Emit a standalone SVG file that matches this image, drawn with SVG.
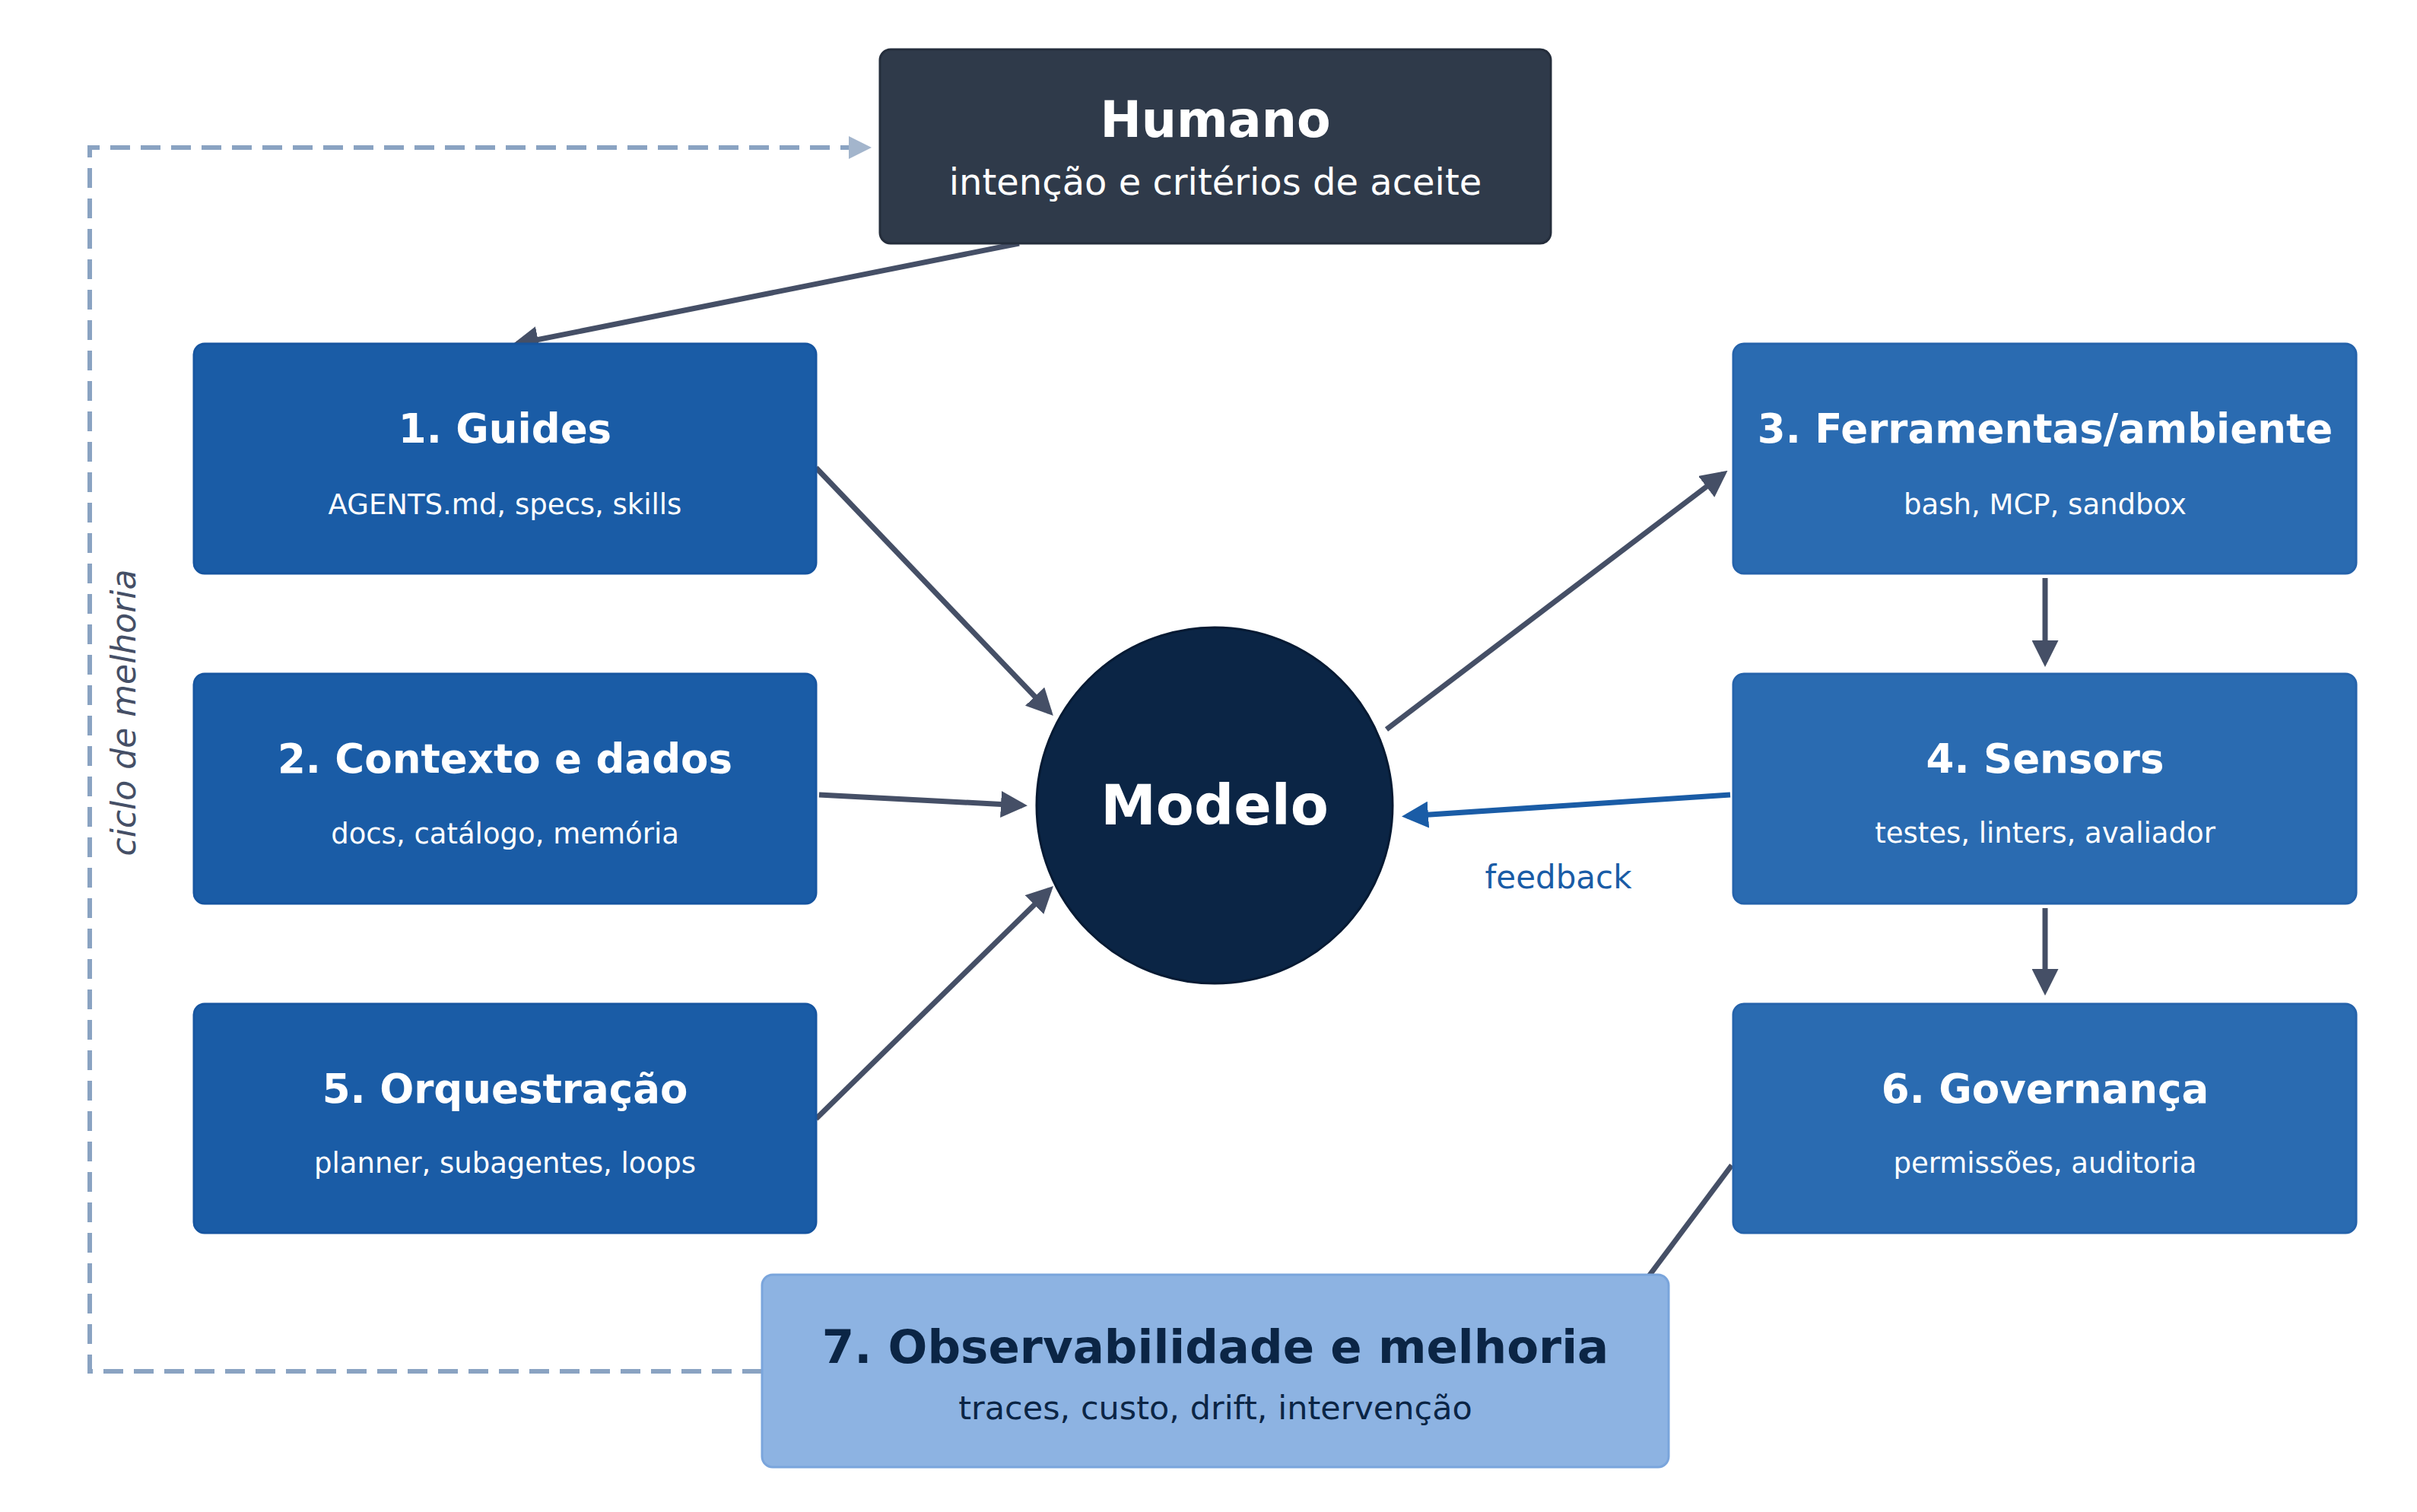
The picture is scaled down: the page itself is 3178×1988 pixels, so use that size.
<svg xmlns="http://www.w3.org/2000/svg" width="3178" height="1988" viewBox="0 0 3178 1988">
<style>
text{font-family:"DejaVu Sans","Noto Sans",sans-serif;text-anchor:middle}
.t{font-weight:bold;fill:#fff;font-size:53px}
.s{fill:#fff;font-size:37px}
.l rect{fill:#1a5ca6;stroke:#1655a0;stroke-width:3}
.r rect{fill:#2a6bb1;stroke:#2563ab;stroke-width:3}
.a{stroke:#454f66;stroke-width:7;fill:none;marker-end:url(#ah)}
</style>
<defs>
<marker id="ah" viewBox="0 0 10 10" refX="8" refY="5" markerWidth="5" markerHeight="5" orient="auto-start-reverse"><path d="M0,0L10,5L0,10z" fill="#454f66"/></marker>
<marker id="ab" viewBox="0 0 10 10" refX="8" refY="5" markerWidth="5" markerHeight="5" orient="auto"><path d="M0,0L10,5L0,10z" fill="#1a5ca6"/></marker>
<marker id="ag" viewBox="0 0 10 10" refX="8" refY="5" markerWidth="5" markerHeight="5" orient="auto"><path d="M0,0L10,5L0,10z" fill="#a3b5cc"/></marker>
</defs>
<rect width="3178" height="1988" fill="#fff"/>
<g id="connectors">
<path d="M1002,1803H118V194H1140" stroke="#8aa3c2" stroke-width="6" stroke-dasharray="26,14" fill="none" marker-end="url(#ag)"/>
<path class="a" d="M1340,320L680,452"/>
<path class="a" d="M1073,615L1380,936"/>
<path class="a" d="M1077,1045L1344,1059"/>
<path class="a" d="M1073,1471L1380,1170"/>
<path class="a" d="M1823,959L2266,623"/>
<path class="a" d="M2689,760V870"/>
<path class="a" d="M2689,1194V1302"/>
<path class="a" d="M2277,1532L2108,1758"/>
<path d="M2275,1045L1850,1073" stroke="#1a5ca6" stroke-width="7" fill="none" marker-end="url(#ab)"/>
<text x="2049" y="1168" font-size="42" fill="#1a5ca6">feedback</text>
<text transform="translate(178,937) rotate(-90)" font-size="44" font-style="italic" fill="#454f66">ciclo de melhoria</text>
</g>
<g id="humano"><rect x="1157" y="65" width="882" height="255" rx="14" fill="#2f3a4a" stroke="#252e3c" stroke-width="3"/>
<text x="1598" y="180" font-size="65" font-weight="bold" fill="#fff">Humano</text>
<text x="1598" y="256" font-size="48" fill="#fff">intenção e critérios de aceite</text></g>
<g id="n1" class="l"><rect x="255" y="452" width="818" height="302" rx="14"/><text class="t" x="664" y="582">1. Guides</text><text class="s" x="664" y="676">AGENTS.md, specs, skills</text></g>
<g id="n2" class="l"><rect x="255" y="886" width="818" height="302" rx="14"/><text class="t" x="664" y="1016">2. Contexto e dados</text><text class="s" x="664" y="1109">docs, catálogo, memória</text></g>
<g id="n5" class="l"><rect x="255" y="1320" width="818" height="301" rx="14"/><text class="t" x="664" y="1450">5. Orquestração</text><text class="s" x="664" y="1542">planner, subagentes, loops</text></g>
<g id="n3" class="r"><rect x="2279" y="452" width="819" height="302" rx="14"/><text class="t" x="2689" y="582">3. Ferramentas/ambiente</text><text class="s" x="2689" y="676">bash, MCP, sandbox</text></g>
<g id="n4" class="r"><rect x="2279" y="886" width="819" height="302" rx="14"/><text class="t" x="2689" y="1016">4. Sensors</text><text class="s" x="2689" y="1108">testes, linters, avaliador</text></g>
<g id="n6" class="r"><rect x="2279" y="1320" width="819" height="301" rx="14"/><text class="t" x="2689" y="1450">6. Governança</text><text class="s" x="2689" y="1542">permissões, auditoria</text></g>
<g id="modelo"><circle cx="1597" cy="1059" r="234" fill="#0b2545" stroke="#061a33" stroke-width="3"/><text x="1597" y="1084" font-size="73" font-weight="bold" fill="#fff">Modelo</text></g>
<g id="n7"><rect x="1002" y="1676" width="1192" height="253" rx="14" fill="#8db3e2" stroke="#7aa5dc" stroke-width="3"/>
<text x="1598" y="1792" font-size="61" font-weight="bold" fill="#0b2545">7. Observabilidade e melhoria</text>
<text x="1598" y="1866" font-size="43" fill="#0b2545">traces, custo, drift, intervenção</text></g>
</svg>
